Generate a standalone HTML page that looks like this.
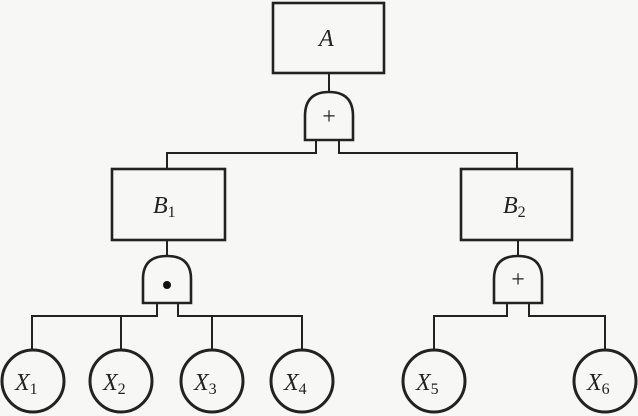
<!DOCTYPE html>
<html><head><style>
html,body{margin:0;padding:0;background:#f7f7f5;}
svg{display:block}
text{font-family:"Liberation Serif",serif;font-style:italic;fill:#222;}
</style></head><body>
<svg width="638" height="416" viewBox="0 0 638 416" xmlns="http://www.w3.org/2000/svg">
<g stroke="#222" fill="none" stroke-width="2">
<rect x="273" y="3" width="111" height="70" stroke-width="2.6"/>
<line x1="329" y1="73" x2="329" y2="92"/>
<path d="M305,140 V116 Q305,92 329,92 Q353,92 353,116 V140 Z" stroke-width="2.6"/>
<polyline points="316,140 316,153 167,153 167,169"/>
<polyline points="339,140 339,153 517,153 517,169"/>
<rect x="112" y="169" width="113" height="71" stroke-width="2.6"/>
<line x1="167" y1="240" x2="167" y2="256"/>
<path d="M143,303 V279 Q143,256 167,256 Q191,256 191,279 V303 Z" stroke-width="2.6"/>
<polyline points="157,303 157,316 32,316 32,350"/>
<line x1="121" y1="316" x2="121" y2="350"/>
<polyline points="178,303 178,316 302,316 302,350"/>
<line x1="212" y1="316" x2="212" y2="350"/>
<rect x="461" y="169" width="111" height="71" stroke-width="2.6"/>
<line x1="518" y1="240" x2="518" y2="256"/>
<path d="M494,303 V279 Q494,256 518,256 Q542,256 542,279 V303 Z" stroke-width="2.6"/>
<polyline points="507,303 507,316 434,316 434,350"/>
<polyline points="529,303 529,316 605,316 605,350"/>
<g stroke-width="3">
<ellipse cx="33" cy="381" rx="31" ry="31"/>
<ellipse cx="121" cy="381" rx="31" ry="31"/>
<ellipse cx="212" cy="381" rx="31" ry="31"/>
<ellipse cx="302" cy="381" rx="31" ry="31"/>
<ellipse cx="434" cy="381" rx="31" ry="31"/>
<ellipse cx="605" cy="381" rx="31" ry="31"/>
</g>
</g>
<circle cx="167" cy="285" r="4" fill="#111"/>
<g font-size="24" text-anchor="middle">
<text x="329" y="124" style="font-style:normal">+</text>
<text x="518" y="287" style="font-style:normal">+</text>
</g>
<g font-size="24">
<text x="319" y="46">A</text>
<text x="153" y="213">B<tspan font-size="16" dy="4" style="font-style:normal">1</tspan></text>
<text x="503" y="213">B<tspan font-size="16" dy="4" style="font-style:normal">2</tspan></text>
<text x="15" y="390">X<tspan font-size="16" dy="4" style="font-style:normal">1</tspan></text>
<text x="103" y="390">X<tspan font-size="16" dy="4" style="font-style:normal">2</tspan></text>
<text x="194" y="390">X<tspan font-size="16" dy="4" style="font-style:normal">3</tspan></text>
<text x="284" y="390">X<tspan font-size="16" dy="4" style="font-style:normal">4</tspan></text>
<text x="416" y="390">X<tspan font-size="16" dy="4" style="font-style:normal">5</tspan></text>
<text x="587" y="390">X<tspan font-size="16" dy="4" style="font-style:normal">6</tspan></text>
</g>
</svg>
</body></html>
